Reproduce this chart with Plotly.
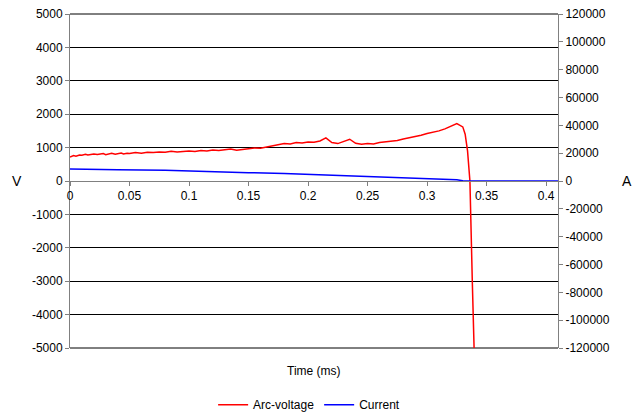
import plotly.graph_objects as go

# Arc-voltage (V) vs time (ms)
v_time = [0.000, 0.003, 0.005, 0.008, 0.010, 0.013, 0.015, 0.018, 0.020, 0.023,
          0.025, 0.028, 0.030, 0.033, 0.035, 0.038, 0.040, 0.043, 0.045, 0.048,
          0.050, 0.055, 0.060, 0.065, 0.070, 0.075, 0.080, 0.085, 0.090, 0.095,
          0.100, 0.105, 0.110, 0.115, 0.120, 0.125, 0.130, 0.135, 0.140, 0.145,
          0.150, 0.155, 0.160, 0.165, 0.170, 0.175, 0.180, 0.185, 0.190, 0.195,
          0.200, 0.205, 0.210, 0.215, 0.220, 0.225, 0.230, 0.235, 0.240, 0.245,
          0.250, 0.255, 0.260, 0.265, 0.270, 0.275, 0.280, 0.285, 0.290, 0.295,
          0.300, 0.305, 0.310, 0.315, 0.320, 0.325, 0.330, 0.332, 0.334, 0.336,
          0.338, 0.3395, 0.341]
v_values = [720, 760, 740, 780, 770, 800, 780, 790, 810, 790,
            800, 820, 790, 810, 830, 800, 820, 840, 810, 830,
            820, 850, 830, 860, 850, 870, 860, 890, 870, 890,
            900, 880, 910, 900, 930, 910, 940, 960, 920, 950,
            970, 990, 980, 1020, 1060, 1080, 1120, 1110, 1150, 1140,
            1170, 1160, 1200, 1290, 1150, 1120, 1180, 1250, 1130, 1100,
            1120, 1110, 1150, 1170, 1200, 1210, 1260, 1290, 1340, 1370,
            1420, 1450, 1500, 1560, 1650, 1720, 1620, 1400, 900, 0,
            -3000, -5000, -5500]

# Current (A) vs time (ms)
i_time = [0.000, 0.035, 0.040, 0.080, 0.100, 0.130, 0.150, 0.180, 0.200, 0.230,
          0.250, 0.270, 0.290, 0.310, 0.325, 0.330, 0.335, 0.410]
i_values = [8600, 8500, 8000, 7800, 7200, 6800, 6000, 5400, 4800, 4000,
            3300, 2700, 2000, 1400, 900, 200, 0, 0]

x_ticks = [0, 0.05, 0.1, 0.15, 0.2, 0.25, 0.3, 0.35, 0.4]
x_tick_labels = ["0", "0.05", "0.1", "0.15", "0.2", "0.25", "0.3", "0.35", "0.4"]
v_ticks = [-5000, -4000, -3000, -2000, -1000, 0, 1000, 2000, 3000, 4000, 5000]
v_tick_labels = ["-5000", "-4000", "-3000", "-2000", "-1000", "0",
                 "1000", "2000", "3000", "4000", "5000"]
a_ticks = [-120000, -100000, -80000, -60000, -40000, -20000, 0,
           20000, 40000, 60000, 80000, 100000, 120000]
a_tick_labels = ["-120000", "-100000", "-80000", "-60000", "-40000", "-20000", "0",
                 "20000", "40000", "60000", "80000", "100000", "120000"]

font = dict(family="Liberation Sans, Arial, sans-serif", size=12, color="black")

fig = go.Figure()
fig.add_trace(go.Scatter(x=v_time, y=v_values, mode="lines", name="Arc-voltage",
                         line=dict(color="#FF0000", width=1.5), yaxis="y"))
fig.add_trace(go.Scatter(x=i_time, y=i_values, mode="lines", name="Current",
                         line=dict(color="#0000FF", width=1.5), yaxis="y2"))

fig.update_layout(
    width=636, height=406,
    margin=dict(l=62, r=86, t=6, b=66, autoexpand=False),
    paper_bgcolor="white", plot_bgcolor="white",
    font=font,
    showlegend=True,
    legend=dict(orientation="h", x=0.49, xanchor="center", y=-0.17, yanchor="middle",
                font=dict(size=12), bgcolor="rgba(0,0,0,0)"),
    xaxis=dict(range=[0, 0.41], tickvals=x_ticks, ticktext=x_tick_labels,
               anchor="free", position=0.5, showgrid=False, zeroline=False,
               showline=True, linecolor="#808080", linewidth=1, automargin=False,
               ticks="outside", ticklen=4, tickcolor="#808080"),
    yaxis=dict(range=[-5000, 5000], tickvals=v_ticks, ticktext=v_tick_labels,
               showgrid=True, automargin=False, ticklabeloverflow="allow",
               gridcolor="#000000", gridwidth=1, zeroline=False,
               showline=True, linecolor="#808080", linewidth=1,
               ticks="outside", ticklen=4, tickcolor="#808080"),
    yaxis2=dict(range=[-120000, 120000], tickvals=a_ticks, ticktext=a_tick_labels,
                overlaying="y", automargin=False, ticklabeloverflow="allow",
                side="right", showgrid=False, zeroline=False,
                showline=True, linecolor="#808080", linewidth=1,
                ticks="outside", ticklen=4, tickcolor="#808080"),
    shapes=[
        dict(type="line", xref="paper", yref="paper", x0=0, x1=1, y0=1, y1=1,
             line=dict(color="#000000", width=1), layer="below"),
        dict(type="line", xref="paper", yref="paper", x0=0, x1=1, y0=0, y1=0,
             line=dict(color="#000000", width=1), layer="below"),
    ],
    annotations=[
        dict(text="Time (ms)", x=0.5, y=-0.07, xref="paper", yref="paper",
             showarrow=False, xanchor="center", yanchor="middle", font=dict(size=12)),
        dict(text="V", x=-0.109, y=0.5, xref="paper", yref="paper",
             showarrow=False, xanchor="center", yanchor="middle", font=dict(size=14)),
        dict(text="A", x=1.141, y=0.5, xref="paper", yref="paper",
             showarrow=False, xanchor="center", yanchor="middle", font=dict(size=14)),
    ],
)

fig.write_html("out.html")
